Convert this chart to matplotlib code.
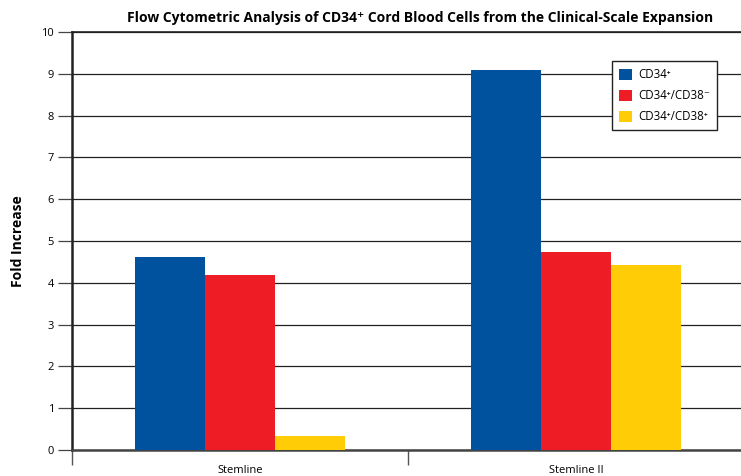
import matplotlib.pyplot as plt
import numpy as np

plt.rcParams['font.family'] = ['Open Sans', 'DejaVu Sans']

groups = ['Stemline', 'Stemline II']
series = ['CD34⁺', 'CD34⁺/CD38⁻', 'CD34⁺/CD38⁺']
cd34 = [4.62, 9.09]
cd34_38neg = [4.19, 4.74]
cd34_38pos = [0.33, 4.43]
colors = ['#00529f', '#ee1c25', '#ffcc05']

fig = plt.figure(figsize=(7.41, 4.76), dpi=100)
ax = fig.add_axes([72 / 741, 26 / 476, 672 / 741, 418 / 476])

x = np.arange(len(groups))
w = 0.2083
for i, (vals, lab) in enumerate(zip([cd34, cd34_38neg, cd34_38pos], series)):
    ax.bar(x + (i - 1) * w, vals, w, color=colors[i], label=lab, zorder=3)

ax.set_ylim(0, 10)
ax.set_xlim(-0.5, 1.5)
ax.set_yticks(range(0, 11))
ax.yaxis.grid(True, color='#222222', linewidth=0.9, zorder=0)
ax.tick_params(axis='y', direction='out', length=10, width=0.9, labelsize=8, color='#444444', pad=3)

ax.set_xticks(x)
ax.set_xticklabels(groups, fontsize=8)
ax.tick_params(axis='x', which='major', length=0, pad=11)
ax.set_xticks([-0.5, 0.5, 1.5], minor=True)
ax.tick_params(axis='x', which='minor', direction='out', length=11, width=1, color='#555555')

ax.spines['left'].set_linewidth(1.8)
ax.spines['left'].set_color('#222222')
ax.spines['bottom'].set_linewidth(1.8)
ax.spines['bottom'].set_color('#444444')
ax.spines['top'].set_linewidth(1.2)
ax.spines['top'].set_color('#222222')
ax.spines['right'].set_visible(False)

fig.text(18 / 741, 1 - 241 / 476, 'Fold Increase', rotation=90, ha='center', va='center',
         fontsize=10, fontweight='bold')
fig.text(0.567, 0.962, 'Flow Cytometric Analysis of CD34⁺ Cord Blood Cells from the Clinical-Scale Expansion',
         ha='center', va='center', fontsize=10, fontweight='bold')

leg = ax.legend(loc='upper right', bbox_to_anchor=(0.968, 0.944), fontsize=8.3, frameon=True,
                fancybox=False, edgecolor='#222222', framealpha=1, handlelength=1.1,
                handleheight=1.1, borderpad=0.6, labelspacing=0.7, handletextpad=0.5)
leg.get_frame().set_linewidth(1)

fig.savefig('out.png', dpi=100)
